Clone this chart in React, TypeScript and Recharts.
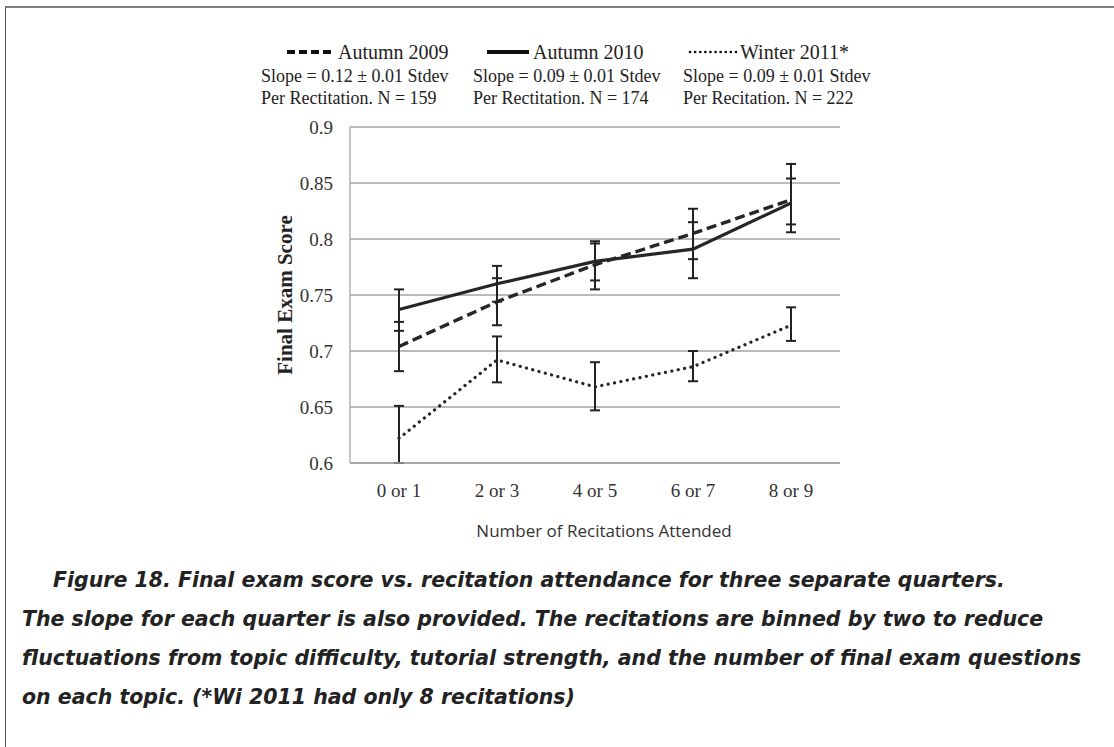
import React from 'react';
import { LineChart, Line, XAxis, YAxis, CartesianGrid, ErrorBar, Legend } from 'recharts';

// ---------- data ----------
const categories = ['0 or 1', '2 or 3', '4 or 5', '6 or 7', '8 or 9'];

const autumn2009 = [0.704, 0.744, 0.777, 0.805, 0.835];
const autumn2009ErrLow = [0.022, 0.021, 0.022, 0.023, 0.029];
const autumn2009ErrHigh = [0.022, 0.021, 0.019, 0.022, 0.032];

const autumn2010 = [0.737, 0.76, 0.78, 0.791, 0.832];
const autumn2010ErrLow = [0.019, 0.016, 0.017, 0.026, 0.019];
const autumn2010ErrHigh = [0.018, 0.016, 0.018, 0.024, 0.022];

const winter2011 = [0.622, 0.692, 0.668, 0.686, 0.723];
const winter2011ErrLow = [0.022, 0.02, 0.021, 0.013, 0.014];
const winter2011ErrHigh = [0.029, 0.021, 0.022, 0.014, 0.016];

const yTicks = [0.6, 0.65, 0.7, 0.75, 0.8, 0.85, 0.9];

const seriesNames = ['Autumn 2009', 'Autumn 2010', 'Winter 2011*'];
const seriesSlopes = [
  'Slope = 0.12 ± 0.01 Stdev',
  'Slope = 0.09 ± 0.01 Stdev',
  'Slope = 0.09 ± 0.01 Stdev',
];
const seriesNotes = [
  'Per Rectitation. N = 159',
  'Per Rectitation. N = 174',
  'Per Recitation. N = 222',
];

const yAxisTitle = 'Final Exam Score';
const xAxisTitle = 'Number of Recitations Attended';

const captionLines = [
  'Figure 18. Final exam score vs. recitation attendance for three separate quarters.',
  'The slope for each quarter is also provided. The recitations are binned by two to reduce',
  'fluctuations from topic difficulty, tutorial strength, and the number of final exam questions',
  'on each topic. (*Wi 2011 had only 8 recitations)',
];

// ---------- table for the library ----------
const chartData = categories.map((cat, i) => ({
  cat,
  a09: autumn2009[i],
  a09e: [autumn2009ErrLow[i], autumn2009ErrHigh[i]],
  a10: autumn2010[i],
  a10e: [autumn2010ErrLow[i], autumn2010ErrHigh[i]],
  w11: winter2011[i],
  w11e: [winter2011ErrLow[i], winter2011ErrHigh[i]],
}));

// ---------- styles ----------
const SERIF = "'Liberation Serif', 'Times New Roman', serif";
const SANS = "'Open Sans', 'Liberation Sans', sans-serif";
const CAPTION_FONT = "'DejaVu Sans', 'Open Sans', sans-serif";
const LINE_COLOR = '#262626';
const GRID_COLOR = '#a3a3a3';

const seriesStyles = [
  { key: 'a09', err: 'a09e', dash: '10 5', width: 3.4, cap: 'butt' as const, legendDash: '8 4', legendWidth: 4 },
  { key: 'a10', err: 'a10e', dash: undefined, width: 3.2, cap: 'butt' as const, legendDash: undefined, legendWidth: 4 },
  { key: 'w11', err: 'w11e', dash: '0.1 6.4', width: 3.2, cap: 'round' as const, legendDash: '0.1 5', legendWidth: 2.6 },
];

// legend layout (pixel positions of each legend block)
const legendLayout = [
  { blockX: 261, sampleX: 287, titleX: 338 },
  { blockX: 473, sampleX: 487, titleX: 533 },
  { blockX: 683, sampleX: 688, titleX: 740 },
];
const LEGEND_ROWS = [52, 76, 98];

const renderLegend = () => (
  <div style={{ position: 'relative', width: 1114, height: 115, fontFamily: SERIF, color: '#222' }}>
    {seriesNames.map((name, i) => {
      const L = legendLayout[i];
      const s = seriesStyles[i];
      const sampleW = L.titleX - L.sampleX - 4;
      return (
        <React.Fragment key={name}>
          <svg
            width={sampleW}
            height={10}
            style={{ position: 'absolute', left: L.sampleX, top: LEGEND_ROWS[0] - 5, overflow: 'visible' }}
          >
            <line
              x1={s.cap === 'round' ? 2 : 0}
              y1={5}
              x2={sampleW}
              y2={5}
              stroke="#111"
              strokeWidth={s.legendWidth}
              strokeDasharray={s.legendDash}
              strokeLinecap={s.cap}
            />
          </svg>
          <div
            style={{
              position: 'absolute',
              left: L.titleX,
              top: LEGEND_ROWS[0] - 12,
              fontSize: 20,
              lineHeight: '24px',
              whiteSpace: 'nowrap',
            }}
          >
            {name}
          </div>
          <div
            style={{
              position: 'absolute',
              left: L.blockX,
              top: LEGEND_ROWS[1] - 11,
              fontSize: 18,
              lineHeight: '22px',
              whiteSpace: 'nowrap',
            }}
          >
            {seriesSlopes[i]}
          </div>
          <div
            style={{
              position: 'absolute',
              left: L.blockX,
              top: LEGEND_ROWS[2] - 11,
              fontSize: 18,
              lineHeight: '22px',
              whiteSpace: 'nowrap',
            }}
          >
            {seriesNotes[i]}
          </div>
        </React.Fragment>
      );
    })}
  </div>
);

const YTitle = (props: any) => {
  const vb = props.viewBox || {};
  const x = vb.x + 15;
  const y = vb.y + vb.height / 2;
  return (
    <text
      x={x}
      y={y}
      transform={`rotate(-90, ${x}, ${y})`}
      textAnchor="middle"
      dominantBaseline="central"
      fontFamily={SERIF}
      fontWeight="bold"
      fontSize={21}
      fill="#222"
    >
      {yAxisTitle}
    </text>
  );
};

const XTitle = (props: any) => {
  const vb = props.viewBox || {};
  const x = vb.x + vb.width / 2 + 9;
  const y = vb.y + 67;
  return (
    <text x={x} y={y} textAnchor="middle" dominantBaseline="central" fontFamily={SANS} fontSize={17} fill="#333">
      {xAxisTitle}
    </text>
  );
};

export default function App() {
  return (
    <div
      style={{
        position: 'absolute',
        left: 0,
        top: 0,
        width: 1114,
        height: 747,
        background: '#fff',
        overflow: 'hidden',
      }}
    >
      <div
        style={{
          position: 'absolute',
          left: 5,
          top: 6,
          width: 1114,
          height: 747,
          borderTop: '2px solid #808080',
          borderLeft: '1.5px solid #555',
          boxSizing: 'border-box',
        }}
      />
      <div style={{ position: 'absolute', left: 0, top: 0 }}>
        <LineChart
          width={1114}
          height={560}
          data={chartData}
          margin={{ top: 127, right: 274, left: 270, bottom: 17 }}
        >
          <CartesianGrid horizontal vertical={false} stroke={GRID_COLOR} strokeWidth={1.3} />
          <XAxis
            dataKey="cat"
            type="category"
            padding={{ left: 49, right: 49 }}
            height={80}
            tickLine={false}
            axisLine={{ stroke: GRID_COLOR, strokeWidth: 1.3 }}
            tickMargin={15}
            tick={{ fontFamily: SERIF, fontSize: 19, fill: '#333' }}
            interval={0}
            label={<XTitle />}
          />
          <YAxis
            type="number"
            domain={[0.6, 0.9]}
            ticks={yTicks}
            allowDataOverflow
            width={80}
            tickLine={false}
            axisLine={{ stroke: GRID_COLOR, strokeWidth: 1.3 }}
            tickMargin={11}
            tick={{ fontFamily: SERIF, fontSize: 19, fill: '#333' }}
            label={<YTitle />}
          />
          <Legend
            layout="horizontal"
            verticalAlign="middle"
            align="center"
            content={renderLegend}
            wrapperStyle={{ position: 'absolute', left: 0, top: 0, width: 1114, height: 115 }}
          />
          {seriesStyles.map((s, i) => (
            <Line
              key={s.key}
              name={seriesNames[i]}
              dataKey={s.key}
              type="linear"
              stroke={LINE_COLOR}
              strokeWidth={s.width}
              strokeDasharray={s.dash}
              strokeLinecap={s.cap}
              dot={false}
              activeDot={false}
              isAnimationActive={false}
            >
              <ErrorBar dataKey={s.err} width={5} strokeWidth={2} stroke="#222" direction="y" isAnimationActive={false} />
            </Line>
          ))}
        </LineChart>
      </div>
      <div
        style={{
          position: 'absolute',
          left: 0,
          top: 561,
          width: 1114,
          fontFamily: CAPTION_FONT,
          fontStyle: 'italic',
          fontWeight: 700,
          fontSize: 20.5,
          lineHeight: '39px',
          color: '#222',
        }}
      >
        {captionLines.map((line, i) => (
          <div key={i} style={{ paddingLeft: i === 0 ? 53 : 22, whiteSpace: 'nowrap' }}>
            {line}
          </div>
        ))}
      </div>
    </div>
  );
}
